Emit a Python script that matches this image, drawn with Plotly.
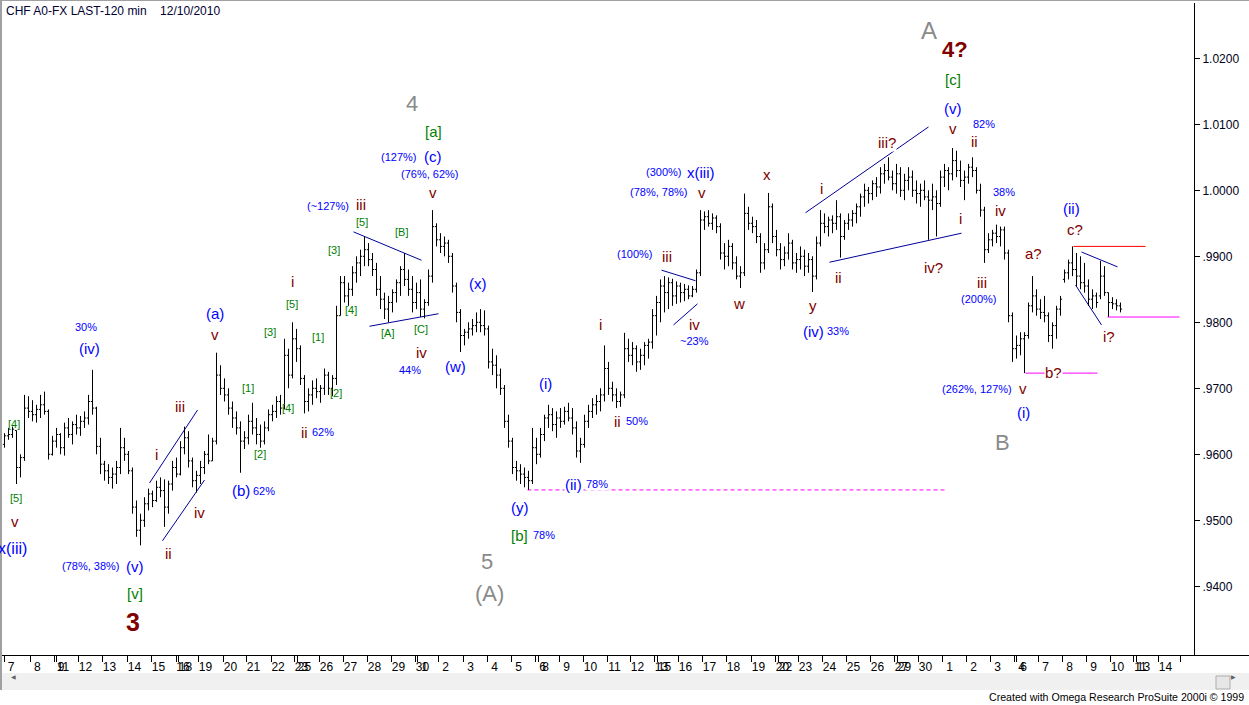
import plotly.graph_objects as go

# ---------------- data (prices in pips, 1/10000) ----------------
bar_high = [9632,9640,9642,9636,9600,9690,9688,9682,9675,9690,9695,9668,9628,9640,9632,9648,9655,9650,9660,9658,
            9665,9690,9728,9672,9625,9590,9585,9580,9590,9640,9625,9605,9580,9530,9510,9535,9548,9545,9560,9565,
            9562,9560,9590,9595,9620,9642,9635,9595,9575,9590,9605,9630,9625,9754,9735,9715,9700,9680,9665,9650,
            9635,9660,9678,9655,9645,9650,9668,9675,9688,9690,9775,9760,9800,9790,9765,9720,9700,9712,9715,9705,
            9730,9725,9720,9825,9870,9870,9860,9885,9900,9910,9930,9920,9905,9890,9870,9845,9840,9850,9865,9885,
            9905,9880,9870,9860,9865,9835,9880,9970,9950,9935,9930,9925,9905,9860,9820,9790,9800,9805,9815,9820,
            9818,9795,9760,9750,9730,9705,9660,9625,9590,9585,9580,9575,9640,9625,9640,9660,9675,9670,9665,9670,
            9672,9678,9670,9650,9625,9660,9675,9685,9690,9700,9765,9740,9710,9700,9695,9784,9775,9770,9765,9760,
            9770,9775,9820,9840,9865,9870,9868,9866,9862,9860,9858,9856,9855,9880,9970,9968,9970,9965,9962,9950,
            9920,9925,9920,9900,9885,9995,9975,9960,9955,9935,9920,9996,9980,9940,9920,9915,9935,9925,9905,9915,
            9910,9905,9900,9930,9970,9965,9960,9962,9985,9965,9955,9965,9970,9980,9995,10010,10005,10015,10020,10035,
            10040,10050,10030,10040,10035,10025,10035,10030,10015,10010,10015,10000,10010,10000,10030,10040,10035,10064,10060,10045,
            10030,10040,10050,10035,10010,9975,9935,9940,9948,9945,9945,9910,9815,9780,9785,9785,9830,9870,9850,9835,
            9840,9815,9800,9825,9840,9880,9895,9915,9905,9900,9890,9865,9850,9845,9893,9885,9845,9838,9835,9830]
bar_low = [9610,9622,9625,9555,9565,9590,9655,9650,9648,9655,9660,9592,9598,9610,9600,9598,9625,9615,9630,9628,
           9640,9645,9660,9600,9570,9560,9555,9548,9555,9570,9590,9570,9510,9475,9462,9490,9515,9520,9528,9535,
           9490,9510,9545,9565,9568,9600,9580,9550,9542,9555,9570,9585,9590,9615,9690,9680,9660,9640,9630,9572,
           9608,9615,9630,9615,9610,9615,9635,9650,9655,9660,9668,9700,9715,9740,9705,9662,9665,9675,9685,9678,
           9690,9690,9688,9705,9810,9830,9825,9840,9860,9870,9885,9885,9870,9840,9820,9805,9800,9815,9830,9840,
           9855,9840,9815,9820,9808,9806,9825,9860,9915,9905,9900,9890,9845,9800,9755,9765,9775,9780,9785,9785,
           9780,9730,9720,9700,9690,9640,9610,9570,9560,9555,9550,9546,9555,9585,9595,9620,9640,9635,9625,9640,
           9645,9650,9630,9595,9587,9610,9640,9655,9660,9665,9680,9690,9680,9670,9672,9685,9740,9735,9725,9728,
           9735,9745,9760,9780,9800,9815,9820,9825,9828,9830,9832,9835,9838,9845,9870,9940,9945,9940,9935,9895,
           9880,9885,9880,9865,9852,9870,9940,9935,9920,9875,9880,9905,9920,9900,9880,9885,9895,9880,9875,9880,
           9870,9875,9846,9865,9915,9935,9930,9935,9940,9898,9925,9940,9945,9950,9960,9975,9980,9985,9990,9995,
           10010,10015,10000,9995,9990,9985,10000,9990,9980,9975,9985,9925,9970,9930,9975,10005,10000,10015,10020,10005,
           9985,10010,10020,9995,9960,9890,9905,9915,9920,9915,9895,9800,9740,9745,9750,9723,9775,9815,9810,9805,
           9800,9770,9760,9775,9810,9860,9865,9870,9855,9850,9845,9825,9820,9822,9835,9840,9808,9820,9818,9815]
bar_open = [9615,9628,9630,9636,9580,9595,9670,9665,9660,9668,9675,9665,9600,9620,9630,9610,9640,9630,9645,9640,
            9650,9655,9680,9670,9612,9585,9575,9565,9570,9580,9610,9600,9575,9520,9485,9500,9525,9540,9530,9550,
            9545,9520,9555,9580,9570,9610,9625,9590,9560,9568,9580,9600,9590,9620,9720,9700,9690,9670,9655,9640,
            9620,9625,9650,9640,9630,9620,9640,9660,9665,9680,9670,9750,9720,9775,9760,9715,9680,9690,9700,9695,
            9700,9720,9700,9715,9810,9860,9840,9850,9875,9890,9900,9910,9895,9880,9850,9835,9820,9830,9845,9860,
            9880,9865,9850,9830,9845,9820,9830,9870,9945,9925,9915,9920,9900,9855,9815,9780,9785,9790,9795,9800,
            9795,9790,9740,9735,9720,9700,9650,9620,9580,9575,9570,9565,9560,9610,9600,9630,9655,9660,9645,9655,
            9650,9665,9655,9640,9605,9615,9650,9665,9675,9680,9690,9730,9700,9690,9680,9690,9760,9750,9760,9740,
            9750,9765,9770,9810,9830,9855,9845,9860,9840,9855,9845,9850,9840,9850,9875,9955,9960,9950,9958,9945,
            9905,9900,9915,9890,9870,9875,9965,9950,9945,9930,9890,9910,9975,9930,9910,9895,9905,9920,9890,9895,
            9900,9885,9895,9870,9920,9950,9945,9955,9950,9960,9930,9950,9955,9965,9975,9990,10000,9995,10010,10005,
            10025,10030,10020,10010,10025,10000,10015,10020,10000,9995,10000,9990,9985,9990,9980,10020,10030,10025,10045,10030,
            10015,10020,10035,10030,10000,9970,9910,9925,9935,9930,9940,9905,9810,9760,9765,9775,9780,9825,9840,9820,
            9815,9810,9780,9795,9820,9865,9875,9890,9880,9870,9860,9855,9835,9840,9840,9870,9845,9830,9828,9825]
bar_close = [9628,9630,9638,9580,9595,9670,9665,9660,9668,9675,9665,9600,9620,9630,9610,9640,9630,9645,9640,9650,
             9655,9680,9670,9612,9585,9575,9565,9570,9580,9610,9600,9575,9520,9485,9500,9525,9540,9530,9550,9545,
             9520,9555,9580,9570,9610,9625,9590,9560,9568,9580,9600,9590,9620,9720,9700,9690,9670,9655,9640,9620,
             9625,9650,9640,9630,9620,9640,9660,9665,9680,9670,9750,9720,9775,9760,9715,9680,9690,9700,9695,9700,
             9720,9700,9715,9810,9860,9840,9850,9875,9890,9900,9910,9895,9880,9850,9835,9820,9830,9845,9860,9880,
             9865,9850,9830,9845,9820,9830,9870,9945,9925,9915,9920,9900,9855,9815,9780,9785,9790,9795,9800,9795,
             9790,9740,9735,9720,9700,9650,9620,9580,9575,9570,9565,9560,9610,9600,9630,9655,9660,9645,9655,9650,
             9665,9655,9640,9605,9615,9650,9665,9675,9680,9690,9730,9700,9690,9680,9690,9760,9750,9760,9740,9750,
             9765,9770,9810,9830,9855,9845,9860,9840,9855,9845,9850,9840,9850,9875,9955,9960,9950,9958,9945,9905,
             9900,9915,9890,9870,9875,9965,9950,9945,9930,9890,9910,9975,9930,9910,9895,9905,9920,9890,9895,9900,
             9885,9895,9870,9920,9950,9945,9955,9950,9960,9930,9950,9955,9965,9975,9990,10000,9995,10010,10005,10025,
             10030,10020,10010,10025,10000,10015,10020,10000,9995,10000,9990,9985,9990,9980,10020,10030,10025,10045,10030,10015,
             10020,10035,10030,10000,9970,9910,9925,9935,9930,9940,9905,9810,9760,9765,9775,9780,9825,9840,9820,9815,
             9810,9780,9795,9820,9835,9875,9890,9880,9870,9860,9855,9835,9840,9830,9870,9845,9830,9828,9825,9820]

# x-axis day ticks (bar-index position, label)
tick_pos = [-0.1, 6.43, 12.38, 12.88, 18.5, 24.5, 30.75, 36.75, 42.88, 43.5, 48.5, 54.75, 60.5, 66.65, 72.5, 73.25,
            78.75, 84.75, 90.75, 96.75, 102.75, 103.25, 108.5, 114.75, 120.75, 126.75, 132.75, 133.5, 138.75, 144.75,
            150.75, 156.5, 162.5, 163.25, 168.5, 174.5, 180.5, 186.75, 192.75, 193.5, 198.5, 204.5, 210.5, 216.5,
            222.5, 223.25, 228.5, 234.5, 240.5, 246.5, 252.5, 253.0, 258.5, 264.5, 270.5, 276.5, 282.25, 283.0, 288.5, 294.0]
tick_text = ["7", "8", "9", "11", "12", "13", "14", "15", "16", "18", "19", "20", "21", "22", "23", "25",
             "26", "27", "28", "29", "30", "1", "2", "3", "4", "5", "6", "8", "9", "10",
             "11", "12", "13", "15", "16", "17", "18", "19", "20", "22", "23", "24", "25", "26",
             "27", "29", "30", "1", "2", "3", "4", "6", "7", "8", "9", "10", "11", "13", "14", ""]
price_ticks = [0.94, 0.95, 0.96, 0.97, 0.98, 0.99, 1.00, 1.01, 1.02]
price_tick_text = [".9400", ".9500", ".9600", ".9700", ".9800", ".9900", "1.0000", "1.0100", "1.0200"]

# ---------------- layout geometry ----------------
W, H = 1249, 705
PL, PR, PT, PB = 2, 1194, 3, 655
XR = [-0.625, 297.375]
YR = [0.929591, 1.028379]

def pxp(px):
    return (px - PL) / (PR - PL)

def pyp(py):
    return (PB - py) / (PB - PT)

def dx(px):
    return XR[0] + (px - PL) / (PR - PL) * (XR[1] - XR[0])

def dy(py):
    return YR[1] - (py - PT) / (PB - PT) * (YR[1] - YR[0])

n = len(bar_high)
xs = list(range(n))
fig = go.Figure(go.Ohlc(
    x=xs,
    open=[v / 10000 for v in bar_open],
    high=[v / 10000 for v in bar_high],
    low=[v / 10000 for v in bar_low],
    close=[v / 10000 for v in bar_close],
    increasing=dict(line=dict(color="black", width=1)),
    decreasing=dict(line=dict(color="black", width=1)),
    tickwidth=0.4, hoverinfo="skip", showlegend=False,
))

FONT = "Arial, Liberation Sans, sans-serif"
BLUE, RED, GREEN, GRAY = "#0000ff", "#800000", "#008000", "#8a8a8a"

labels = [
    ("30%", 86, 327, BLUE, 11), ("(iv)", 89, 348, BLUE, 15), ("[4]", 14, 424, GREEN, 11),
    ("[3]", 1, 469, GREEN, 11), ("[5]", 16, 498, GREEN, 11), ("v", 15, 521, RED, 15),
    ("i", 156, 454, RED, 15), ("iii", 180, 406, RED, 15), ("ii", 168, 553, RED, 15), ("iv", 199, 512, RED, 15),
    ("(78%, 38%)", 90, 566, BLUE, 11), ("(v)", 135, 566, BLUE, 15), ("[v]", 135, 593, GREEN, 15),
    ("(a)", 215, 313, BLUE, 15), ("v", 215, 334, RED, 15),
    ("(127%)", 398, 157, BLUE, 11), ("(c)", 433, 156, BLUE, 15), ("(76%, 62%)", 429, 174, BLUE, 11),
    ("[a]", 433, 131, GREEN, 15), ("v", 433, 192, RED, 15), ("(~127%)", 328, 206, BLUE, 11),
    ("iii", 361, 204, RED, 15), ("[5]", 362, 222, GREEN, 11), ("[B]", 401, 232, GREEN, 11),
    ("[3]", 334, 250, GREEN, 11), ("i", 292, 281, RED, 15), ("[5]", 292, 304, GREEN, 11),
    ("[4]", 351, 310, GREEN, 11), ("[A]", 387, 333, GREEN, 11), ("[C]", 421, 329, GREEN, 11),
    ("iv", 421, 352, RED, 15), ("44%", 410, 370, BLUE, 11), ("[3]", 270, 332, GREEN, 11),
    ("[1]", 318, 337, GREEN, 11), ("[1]", 248, 388, GREEN, 11), ("[4]", 288, 408, GREEN, 11),
    ("[2]", 336, 393, GREEN, 11), ("[2]", 260, 454, GREEN, 11), ("ii", 304, 432, RED, 15),
    ("62%", 323, 432, BLUE, 11), ("(b)", 241, 490, BLUE, 15), ("62%", 264, 491, BLUE, 11),
    ("(x)", 478, 283, BLUE, 15), ("(w)", 455, 366, BLUE, 15), ("(i)", 545, 383, BLUE, 15),
    ("i", 600, 324, RED, 15), ("ii", 617, 421, RED, 15), ("50%", 637, 421, BLUE, 11),
    ("(y)", 520, 507, BLUE, 15), ("[b]", 519, 535, GREEN, 15), ("78%", 544, 535, BLUE, 11),
    ("(300%)", 663, 172, BLUE, 11), ("x(iii)", 701, 172, BLUE, 15), ("(78%, 78%)", 658, 192, BLUE, 11),
    ("v", 702, 192, RED, 15), ("(100%)", 634, 254, BLUE, 11), ("iii", 667, 256, RED, 15),
    ("iv", 694, 324, RED, 15), ("~23%", 694, 341, BLUE, 11), ("w", 739, 303, RED, 15),
    ("x", 767, 174, RED, 15), ("y", 813, 305, RED, 15), ("(iv)", 813, 331, BLUE, 15), ("33%", 838, 331, BLUE, 11),
    ("[c]", 953, 79, GREEN, 15), ("(v)", 953, 108, BLUE, 15), ("v", 953, 128, RED, 15),
    ("82%", 984, 124, BLUE, 11), ("ii", 974, 141, RED, 15), ("i", 821, 188, RED, 15),
    ("38%", 1004, 192, BLUE, 11), ("iv", 1000, 210, RED, 15), ("i", 960, 218, RED, 15),
    ("ii", 838, 277, RED, 15), ("iv?", 933, 267, RED, 15), ("iii", 982, 282, RED, 15),
    ("(200%)", 978, 299, BLUE, 11), ("(262%, 127%)", 977, 389, BLUE, 11),
    ("(ii)", 1071, 208, BLUE, 15), ("c?", 1075, 229, RED, 15), ("a?", 1033, 253, RED, 15),
    ("v", 1023, 388, RED, 15), ("(i)", 1023, 412, BLUE, 15), ("i?", 1109, 336, RED, 15),
]
big_labels = [
    ("4", 412, 103, GRAY, 22, False), ("5", 487, 561, GRAY, 22, False), ("(A)", 489, 593, GRAY, 22, False),
    ("A", 929, 30, GRAY, 24, False), ("B", 1002, 442, GRAY, 22, False),
    ("3", 133, 622, RED, 25, True), ("4?", 955, 49, RED, 22, True),
]
white_labels = [("(ii)", 573, 484, BLUE, 15), ("78%", 597, 484, BLUE, 11),
                ("iii?", 887, 142, RED, 15), ("b?", 1053, 372, RED, 15)]

anns = []
for t, x, y, c, s in labels:
    anns.append(dict(text=t, x=dx(x), y=dy(y), xref="x", yref="y", showarrow=False,
                     font=dict(family=FONT, size=s, color=c)))
for t, x, y, c, s, b in big_labels:
    anns.append(dict(text=f"<b>{t}</b>" if b else t, x=dx(x), y=dy(y), xref="x", yref="y", showarrow=False,
                     font=dict(family=FONT, size=s, color=c)))
for t, x, y, c, s in white_labels:
    anns.append(dict(text=t, x=dx(x), y=dy(y), xref="x", yref="y", showarrow=False, bgcolor="white",
                     borderpad=0, font=dict(family=FONT, size=s, color=c)))
# partially cut label at left edge
anns.append(dict(text="x(iii)", x=dx(29), y=dy(548), xref="x", yref="y", xanchor="right", showarrow=False,
                 font=dict(family=FONT, size=16, color=BLUE)))

# title, credits, scrollbar arrows
anns.append(dict(text="CHF A0-FX LAST-120 min\u00a0\u00a0\u00a0 12/10/2010", x=pxp(4), y=pyp(11),
                 xref="paper", yref="paper", xanchor="left", yanchor="middle", showarrow=False,
                 font=dict(family=FONT, size=12, color="#000033")))
anns.append(dict(text="Created with Omega Research ProSuite 2000i \u00a9 1999", x=pxp(1246), y=pyp(697),
                 xref="paper", yref="paper", xanchor="right", yanchor="middle", showarrow=False,
                 font=dict(family="Liberation Sans Narrow, Arial Narrow, Arial, sans-serif", size=10.6, color="black")))
anns.append(dict(text="\u25c0", x=pxp(9), y=pyp(682), xref="paper", yref="paper", showarrow=False,
                 font=dict(family="DejaVu Sans", size=6, color="#606060")))
anns.append(dict(text="\u25b6", x=pxp(1238), y=pyp(682), xref="paper", yref="paper", showarrow=False,
                 font=dict(family="DejaVu Sans", size=6, color="#606060")))

# trend lines (bar index, price)
NAVY = "#000099"
trendlines = [
    (36.25, 0.95565, 48.25, 0.96670), (39.5, 0.94690, 50.0, 0.95610),
    (87.25, 0.99370, 104.25, 0.98940), (91.25, 0.97940, 108.5, 0.98130),
    (164.25, 0.98790, 172.75, 0.98630), (167.25, 0.97960, 173.25, 0.98280),
    (200.25, 0.99660, 231.0, 1.00960), (206.25, 0.98910, 239.25, 0.99350),
    (269.25, 0.99065, 278.25, 0.98840), (267.75, 0.98565, 274.25, 0.97960),
]
shapes = []
for x0, y0, x1, y1 in trendlines:
    shapes.append(dict(type="line", xref="x", yref="y", x0=x0, y0=y0, x1=x1, y1=y1,
                       line=dict(color=NAVY, width=1), layer="below"))

# horizontal levels
lvl_y = bar_low[131] / 10000
shapes.append(dict(type="line", xref="x", yref="y", x0=130.75, x1=235.25, y0=lvl_y, y1=lvl_y,
                   line=dict(color="#ff00ff", width=1, dash="4px,3px"), layer="below"))
lvl_c = bar_high[267] / 10000
shapes.append(dict(type="line", xref="x", yref="y", x0=267.25, x1=285.25, y0=lvl_c, y1=lvl_c,
                   line=dict(color="#ff0000", width=1)))
lvl_i = bar_low[276] / 10000
shapes.append(dict(type="line", xref="x", yref="y", x0=275.75, x1=293.75, y0=lvl_i, y1=lvl_i,
                   line=dict(color="#ff00ff", width=1)))
lvl_b = bar_low[255] / 10000
shapes.append(dict(type="line", xref="x", yref="y", x0=255.25, x1=273.25, y0=lvl_b, y1=lvl_b,
                   line=dict(color="#ff00ff", width=1), layer="below"))

# window chrome
shapes += [
    dict(type="line", xref="paper", yref="paper", x0=pxp(0), x1=pxp(1249), y0=pyp(PB + 0.5), y1=pyp(PB + 0.5),
         line=dict(color="black", width=1)),
    dict(type="line", xref="paper", yref="paper", x0=pxp(0), x1=pxp(1249), y0=pyp(0.5), y1=pyp(0.5),
         line=dict(color="#a0a0a0", width=1)),
    dict(type="line", xref="paper", yref="paper", x0=pxp(1), x1=pxp(1), y0=pyp(0), y1=pyp(690),
         line=dict(color="#a0a0a0", width=2)),
    dict(type="rect", xref="paper", yref="paper", x0=pxp(2), x1=pxp(1249), y0=pyp(690), y1=pyp(673),
         fillcolor="#f0f0f0", line=dict(width=0), layer="below"),
    dict(type="rect", xref="paper", yref="paper", x0=pxp(1216), x1=pxp(1230), y0=pyp(689), y1=pyp(676),
         fillcolor="#e6e6e6", line=dict(color="#adadad", width=1)),
]

fig.update_layout(
    width=W, height=H,
    margin=dict(l=PL, r=W - PR, t=PT, b=H - PB),
    paper_bgcolor="white", plot_bgcolor="white",
    showlegend=False,
    annotations=anns, shapes=shapes,
    xaxis=dict(range=XR, showgrid=False, zeroline=False, rangeslider=dict(visible=False),
               tickmode="array", tickvals=tick_pos, ticktext=tick_text,
               ticks="outside", ticklen=6, tickcolor="black", tickwidth=1,
               ticklabelshift=7, ticklabelstandoff=-5,
               showline=True, linecolor="black", linewidth=1,
               tickfont=dict(family=FONT, size=12, color="black"), tickangle=0),
    yaxis=dict(range=YR, side="right", showgrid=False, zeroline=False,
               tickmode="array", tickvals=price_ticks, ticktext=price_tick_text,
               ticks="outside", ticklen=5, tickcolor="black",
               showline=True, linecolor="black", linewidth=1,
               tickfont=dict(family=FONT, size=12, color="#000020")),
)

fig.write_html("out.html", config={"displayModeBar": False},
               post_script="document.body.style.margin='0';document.body.style.overflow='hidden';")
